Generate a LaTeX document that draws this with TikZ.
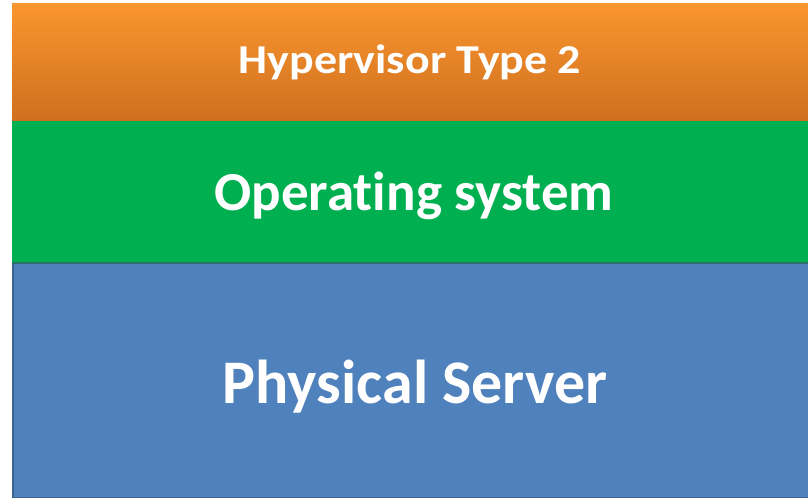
\documentclass[tikz,border=0pt]{standalone}
\usepackage{fontspec}
\setmainfont[Ligatures=NoCommon]{Carlito}
\definecolor{hvtop}{HTML}{F9962F}
\definecolor{hvbot}{HTML}{D06F1F}
\definecolor{osgreen}{HTML}{00AF4F}
\definecolor{srvblue}{HTML}{4F81BD}
\definecolor{srvedge}{HTML}{3B6390}
\definecolor{osedge}{HTML}{2A7168}
\begin{document}
\begin{tikzpicture}[x=1pt,y=-1pt,
  layertext/.style={text=white,font=\bfseries,anchor=base,inner sep=0pt}]
\useasboundingbox[fill=white] (0,0) rectangle (808,500);
% hardware layer
\fill[srvblue] (12,263) rectangle (808,498);
\draw[srvedge,line width=1.5pt] (12.75,263) -- (12.75,497.25) -- (808,497.25);
% host operating system layer
\fill[osgreen] (12,121) rectangle (808,263);
\draw[osedge,line width=1.2pt] (12,263) -- (808,263);
% hypervisor layer
\shade[top color=hvtop,bottom color=hvbot] (12,4) rectangle (808,121);
% labels
\node[layertext,font=\bfseries\fontsize{41}{46}\selectfont,xscale=1.12] (hv) at (410,74) {Hypervisor Type 2};
\node[layertext,font=\bfseries\fontsize{55}{60}\selectfont] (os) at (414,210) {Operating system};
\node[layertext,font=\bfseries\fontsize{62}{70}\selectfont] (srv) at (415,403) {Physical Server};
\end{tikzpicture}
\end{document}
